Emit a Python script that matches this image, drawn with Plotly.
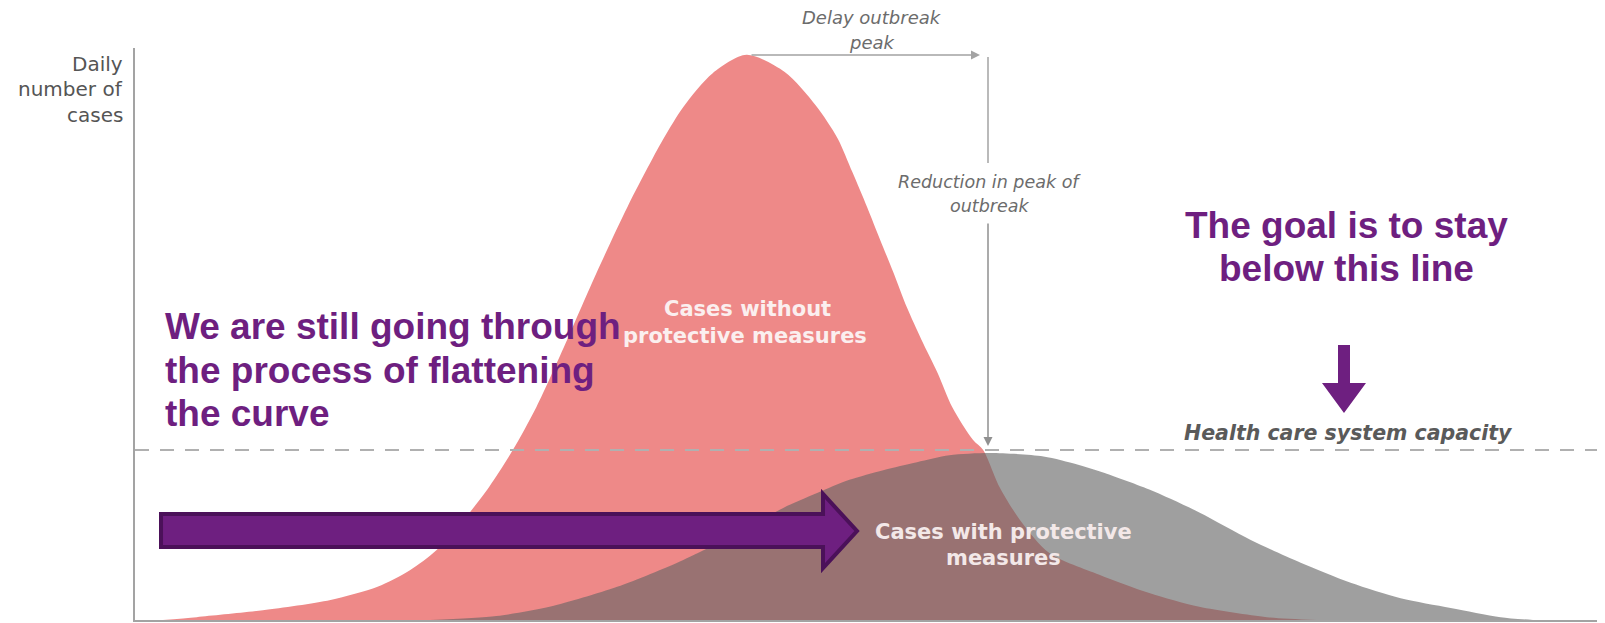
import plotly.graph_objects as go

# ---------------- data ----------------
days_without = [1.9, 4.2, 8.7, 13.3, 16.5, 18.7, 20.5, 22.8, 24.1, 25.7, 27.3, 29.4, 31.4, 33.5,
                35.9, 37.3, 39.3, 41.6, 44.2, 46.3, 47.8, 48.8, 49.8, 50.7, 51.6, 52.5,
                53.5, 54.6, 55.6, 57.0, 57.7, 58.8, 60.2, 62.2, 65.6, 69.0, 72.4, 77.0, 80.4]
cases_without = [0, 0.5, 1.7, 3.5, 5.8, 8.7, 12.2, 18.9, 23.3, 29.7, 37.2, 49.0, 60.7, 72.2,
                 83.9, 89.7, 95.6, 98.8, 95.8, 90.0, 84.2, 78.3, 72.2, 66.4, 60.7, 54.7,
                 49.0, 43.2, 37.2, 31.5, 29.7, 23.3, 17.5, 11.7, 7.9, 4.7, 2.3, 0.5, 0]

days_with = [20.1, 24.6, 28.2, 32.8, 37.3, 41.8, 44.1, 46.4, 48.6, 50.9, 53.2, 55.4, 58.2, 61.8,
             64.1, 65.6, 69.0, 72.4, 75.9, 79.3, 82.7, 86.1, 89.5, 92.9, 95.1]
cases_with = [0, 0.7, 2.3, 5.8, 10.5, 16.3, 19.6, 22.2, 24.5, 26.2, 27.6, 28.8, 29.2, 28.6,
              27.2, 26.0, 22.8, 18.8, 14.0, 10.0, 6.5, 3.8, 2.1, 0.5, 0]

capacity = 29.7

# ---------------- layout helpers (screen pixels -> paper) ----------------
OFF = 8                      # page body margin of the html page
FW, FH = 1597, 615
ML, MR, MT, MB = 127, 0, 40, 3
PW = FW - ML - MR
PH = FH - MT - MB


def px(sx):
    return (sx - OFF - ML) / PW


def py(sy):
    return (FH - MB - (sy - OFF)) / PH


PURPLE = "#6E1F80"
PURPLE_DARK = "#4B1159"
GREY_TXT = "#6c6c6c"
AX = "#a3a3a3"

fig = go.Figure()
fig.add_trace(go.Scatter(x=days_without, y=cases_without, mode="lines",
                         line=dict(shape="spline", width=0, color="#EE8988", smoothing=0.8),
                         fill="tozeroy", fillcolor="#EE8988", hoverinfo="skip", showlegend=False))
fig.add_trace(go.Scatter(x=days_with, y=cases_with, mode="lines",
                         line=dict(shape="spline", width=0, color="rgba(100,100,100,0.62)", smoothing=0.8),
                         fill="tozeroy", fillcolor="rgba(100,100,100,0.62)", hoverinfo="skip",
                         showlegend=False))

shapes = []
# capacity dashed line
shapes.append(dict(type="line", xref="paper", yref="y", x0=0, x1=1, y0=capacity, y1=capacity,
                   line=dict(color="#b0b0b0", width=2, dash="14px,11px"), layer="above"))
# vertical reduction line (upper segment)
shapes.append(dict(type="line", xref="paper", yref="paper", x0=px(988), x1=px(988), y0=py(57), y1=py(163),
                   line=dict(color=AX, width=1.5)))


def P(sx, sy):
    return f"{px(sx):.5f},{py(sy):.5f}"


big = ("M " + P(161, 514) + " L " + P(823, 514) + " L " + P(823, 494) + " L " + P(857, 531) +
       " L " + P(823, 568) + " L " + P(823, 547) + " L " + P(161, 547) + " Z")
shapes.append(dict(type="path", xref="paper", yref="paper", path=big, fillcolor=PURPLE,
                   line=dict(color=PURPLE_DARK, width=4), layer="above"))
down = ("M " + P(1338, 345) + " L " + P(1350, 345) + " L " + P(1350, 383) + " L " + P(1366, 383) +
        " L " + P(1344, 413) + " L " + P(1322, 383) + " L " + P(1338, 383) + " Z")
shapes.append(dict(type="path", xref="paper", yref="paper", path=down, fillcolor=PURPLE,
                   line=dict(color=PURPLE, width=0), layer="above"))

ann = []


def text(sx, sy, t, size, color, family, xanchor="center", weight="normal", style="normal"):
    ann.append(dict(x=px(sx), y=py(sy), xref="paper", yref="paper", text=t, showarrow=False,
                    xanchor=xanchor, yanchor="middle",
                    font=dict(size=size, color=color, family=family, weight=weight, style=style)))


# y-axis title
for t, sy in [("Daily", 64), ("number of", 89), ("cases", 115)]:
    text(125, sy, t, 20, "#555555", "DejaVu Sans", xanchor="right")

# delay / reduction labels
text(872, 18, "Delay outbreak", 18, GREY_TXT, "DejaVu Sans", style="italic")
text(872, 43, "peak", 18, GREY_TXT, "DejaVu Sans", style="italic")
text(989, 182, "Reduction in peak of", 17.5, GREY_TXT, "DejaVu Sans", style="italic")
text(989, 206, "outbreak", 17.5, GREY_TXT, "DejaVu Sans", style="italic")

# thin grey arrows
ann.append(dict(x=px(980), y=py(55), xref="paper", yref="paper", ax=-(980 - 750), ay=0,
                showarrow=True, arrowhead=2, arrowsize=1.2, arrowwidth=1.5, arrowcolor=AX, text=""))
ann.append(dict(x=px(988), y=py(446), xref="paper", yref="paper", ax=0, ay=-(446 - 222),
                showarrow=True, arrowhead=2, arrowsize=1.2, arrowwidth=1.5, arrowcolor="#909090", text=""))

# curve labels
text(747, 309, "Cases without", 21, "#FBEFEF", "DejaVu Sans", weight="bold")
text(745, 336, "protective measures", 21, "#FBEFEF", "DejaVu Sans", weight="bold")
text(1003, 532, "Cases with protective", 21, "#F3E8E8", "DejaVu Sans", weight="bold")
text(1003, 558, "measures", 21, "#F3E8E8", "DejaVu Sans", weight="bold")

# capacity label
text(1348, 433, "Health care system capacity", 20.5, "#5a5a5a", "DejaVu Sans", weight="bold", style="italic")

# purple commentary
for t, sy in [("We are still going through", 326), ("the process of flattening", 370), ("the curve", 414)]:
    text(163, sy, t, 37, PURPLE, "Liberation Sans", xanchor="left", weight="bold")
for t, sy in [("The goal is to stay", 225), ("below this line", 268)]:
    text(1346, sy, t, 37, PURPLE, "Liberation Sans", weight="bold")

fig.update_layout(
    width=FW, height=FH, margin=dict(l=ML, r=MR, t=MT, b=MB),
    paper_bgcolor="white", plot_bgcolor="white",
    xaxis=dict(range=[0, 100], showgrid=False, zeroline=False, showticklabels=False, ticks="",
               showline=True, linecolor=AX, linewidth=1.5, fixedrange=True),
    yaxis=dict(range=[0, 100], showgrid=False, zeroline=False, showticklabels=False, ticks="",
               showline=True, linecolor=AX, linewidth=1.5, fixedrange=True),
    shapes=shapes, annotations=ann, showlegend=False,
)

fig.write_html("out.html")
